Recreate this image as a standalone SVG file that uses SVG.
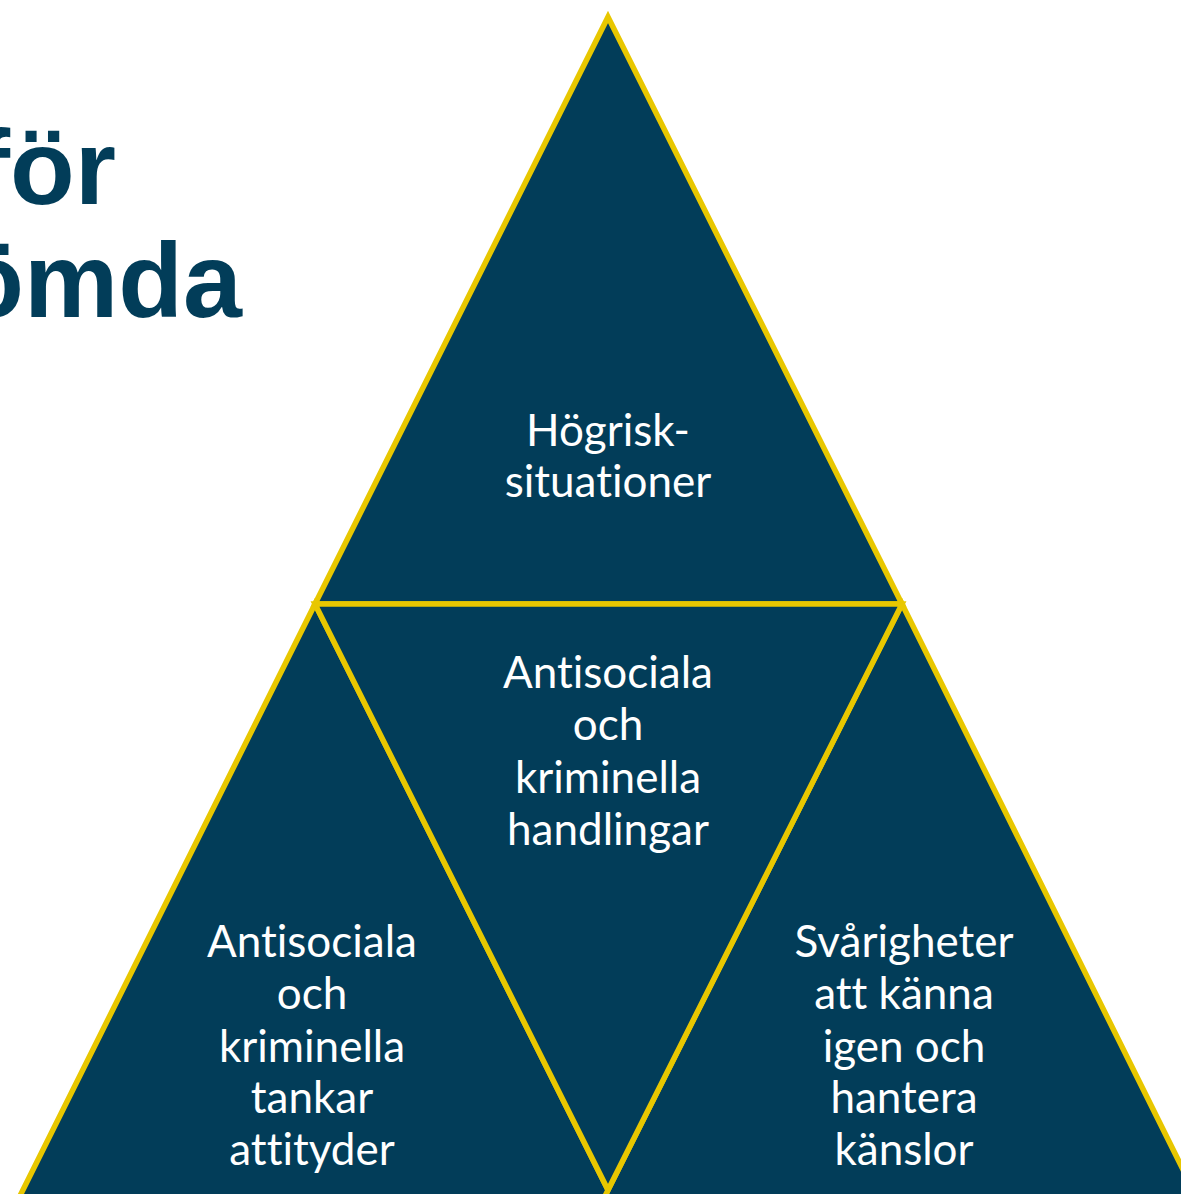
<svg xmlns="http://www.w3.org/2000/svg" width="1181" height="1194" viewBox="0 0 1181 1194">
<style>
.tri{fill:#023d59;stroke:#e8c700;stroke-width:5.5;stroke-linejoin:miter}
.lbl{font-family:Lato,"Open Sans",sans-serif;font-size:44px;fill:#ffffff;text-anchor:middle;font-variant-ligatures:none;font-feature-settings:"liga" 0,"clig" 0}
.title{font-family:"Liberation Sans",Arial,sans-serif;font-weight:bold;font-size:106px;fill:#023d59;text-anchor:end}
</style>
<rect width="1181" height="1194" fill="#ffffff"/>
<g id="title">
<text class="title" x="116" y="204">för</text>
<text class="title" x="242" y="317">ömda</text>
</g>
<g id="node-left">
<polygon class="tri" points="315,604 633,1240 -2,1240"/>
<text class="lbl" x="312" y="957">Antisociala</text>
<text class="lbl" x="312" y="1009">och</text>
<text class="lbl" x="312" y="1062">kriminella</text>
<text class="lbl" x="312" y="1113">tankar</text>
<text class="lbl" x="312" y="1165">attityder</text>
</g>
<g id="node-right">
<polygon class="tri" points="902,604 1218,1240 583,1240"/>
<text class="lbl" x="904" y="957">Svårigheter</text>
<text class="lbl" x="904" y="1009">att känna</text>
<text class="lbl" x="904" y="1062">igen och</text>
<text class="lbl" x="904" y="1113">hantera</text>
<text class="lbl" x="904" y="1165">känslor</text>
</g>
<g id="node-top">
<polygon class="tri" points="608,17 902,604 315,604"/>
<text class="lbl" x="608" y="446">Högrisk-</text>
<text class="lbl" x="608" y="497">situationer</text>
</g>
<g id="node-middle">
<polygon class="tri" points="315,604 902,604 608,1190"/>
<text class="lbl" x="608" y="688">Antisociala</text>
<text class="lbl" x="608" y="740">och</text>
<text class="lbl" x="608" y="793">kriminella</text>
<text class="lbl" x="608" y="845">handlingar</text>
</g>
<g id="connectors"></g>
</svg>
